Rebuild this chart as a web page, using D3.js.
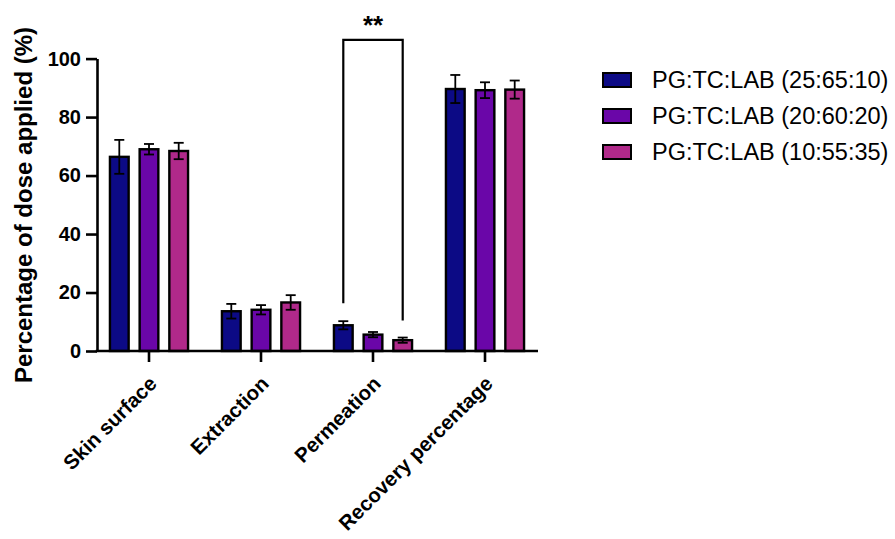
<!DOCTYPE html>
<html>
<head>
<meta charset="utf-8">
<script src="https://cdn.jsdelivr.net/npm/d3@7"></script>
<style>
  html, body { margin: 0; padding: 0; background: #fff; }
  svg { display: block; font-family: Arial, "Liberation Sans", sans-serif; }
</style>
</head>
<body>
<svg id="chart" width="895" height="539"></svg>
<script>
// Skin distribution of the applied dose, mean ± SD per formulation
const categories = ["Skin surface", "Extraction", "Permeation", "Recovery percentage"];
const seriesNames = ["PG:TC:LAB (25:65:10)", "PG:TC:LAB (20:60:20)", "PG:TC:LAB (10:55:35)"];
const seriesColors = ["#0c0a85", "#6a06a8", "#b0298a"];
const meanA = [66.4, 13.6, 8.8, 89.6];
const meanB = [69.0, 14.1, 5.6, 89.2];
const meanC = [68.4, 16.6, 3.7, 89.4];
const sdA = [5.8, 2.5, 1.4, 4.8];
const sdB = [1.8, 1.6, 0.9, 2.7];
const sdC = [2.8, 2.5, 0.9, 3.1];
const yTicks = [0, 20, 40, 60, 80, 100];
const yLabel = "Percentage of dose applied (%)";
const sigLabel = "**";

const means = [meanA, meanB, meanC];
const sds = [sdA, sdB, sdC];

const svg = d3.select("#chart");
const y0 = 351, y100 = 58.6;
const xLeft = 97, xRight = 538;

const y = d3.scaleLinear().domain([0, 100]).range([y0, y100]);
const x = d3.scaleBand().domain(categories).range([93, 541]).padding(0);
const xs = d3.scaleBand().domain(d3.range(3)).range([0, 90]).paddingInner(0.37).paddingOuter(0.2);

// bars
const rows = [];
categories.forEach((c, i) => {
  means.forEach((m, s) => rows.push({ c, s, v: m[i], sd: sds[s][i] }));
});
const bx = d => x(d.c) + x.bandwidth() / 2 - 45 + xs(d.s);

svg.append("g").selectAll("rect").data(rows).join("rect")
  .attr("x", d => bx(d))
  .attr("width", xs.bandwidth())
  .attr("y", d => y(d.v))
  .attr("height", d => y(0) - y(d.v))
  .attr("fill", d => seriesColors[d.s])
  .attr("stroke", "#000")
  .attr("stroke-width", 2.4);

// error bars
const eg = svg.append("g").attr("stroke", "#000").attr("stroke-width", 1.8).attr("fill", "none");
rows.forEach(d => {
  const cx = bx(d) + xs.bandwidth() / 2;
  const top = y(d.v + d.sd), bot = y(d.v - d.sd);
  eg.append("line").attr("x1", cx).attr("x2", cx).attr("y1", top).attr("y2", bot);
  eg.append("line").attr("x1", cx - 5).attr("x2", cx + 5).attr("y1", top).attr("y2", top);
  eg.append("line").attr("x1", cx - 5).attr("x2", cx + 5).attr("y1", bot).attr("y2", bot);
});

// y axis
const yAxis = svg.append("g").attr("transform", `translate(${xLeft},0)`)
  .call(d3.axisLeft(y).tickValues(yTicks).tickSize(11).tickPadding(5).tickSizeOuter(0));
yAxis.select(".domain").attr("stroke-width", 2.6);
yAxis.selectAll(".tick line").attr("stroke-width", 2.6);
yAxis.selectAll(".tick text").attr("font-size", 20).attr("font-weight", "bold").attr("fill", "#000")
  .attr("font-family", "Arial, 'Liberation Sans', sans-serif");

// x axis
const xAxis = svg.append("g").attr("transform", `translate(0,${y0})`)
  .call(d3.axisBottom(x).tickSize(11).tickSizeOuter(0).tickFormat(""));
xAxis.select(".domain").remove();
xAxis.selectAll(".tick line").attr("stroke-width", 2.6);
svg.append("line").attr("x1", xLeft - 1.3).attr("x2", xRight).attr("y1", y0).attr("y2", y0)
  .attr("stroke", "#000").attr("stroke-width", 2.6);

svg.append("g").selectAll("text").data(categories).join("text")
  .attr("transform", d => `translate(${x(d) + x.bandwidth() / 2 + 9},${y0 + 34}) rotate(-45)`)
  .attr("text-anchor", "end")
  .attr("font-size", 20.5)
  .attr("font-weight", "bold")
  .text(d => d);

// y axis title
svg.append("text")
  .attr("transform", `translate(32,205) rotate(-90)`)
  .attr("text-anchor", "middle")
  .attr("font-size", 24)
  .attr("font-weight", "bold")
  .text(yLabel);

// significance bracket between first and third formulation in Permeation
const pi = categories.indexOf("Permeation");
const pA = { c: categories[pi], s: 0 }, pC = { c: categories[pi], s: 2 };
const xA = bx(pA) + xs.bandwidth() / 2, xC = bx(pC) + xs.bandwidth() / 2;
const yTop = y(106.4);
svg.append("path")
  .attr("d", `M${xA},${y(meanA[pi] + sdA[pi]) - 18}V${yTop}H${xC}V${y(meanC[pi] + sdC[pi]) - 17}`)
  .attr("fill", "none").attr("stroke", "#000").attr("stroke-width", 2.2);
svg.append("text")
  .attr("x", (xA + xC) / 2).attr("y", 34)
  .attr("text-anchor", "middle")
  .attr("font-size", 26).attr("font-weight", "bold")
  .text(sigLabel);

// legend
const lg = svg.append("g").attr("transform", "translate(603,80)");
seriesNames.forEach((n, i) => {
  const g = lg.append("g").attr("transform", `translate(0,${i * 36})`);
  g.append("rect").attr("x", 0).attr("y", -7).attr("width", 28).attr("height", 14)
    .attr("fill", seriesColors[i]).attr("stroke", "#000").attr("stroke-width", 2);
  g.append("text").attr("x", 49).attr("y", 0).attr("dy", "0.35em")
    .attr("font-size", 23.5).text(n);
});
</script>
</body>
</html>
